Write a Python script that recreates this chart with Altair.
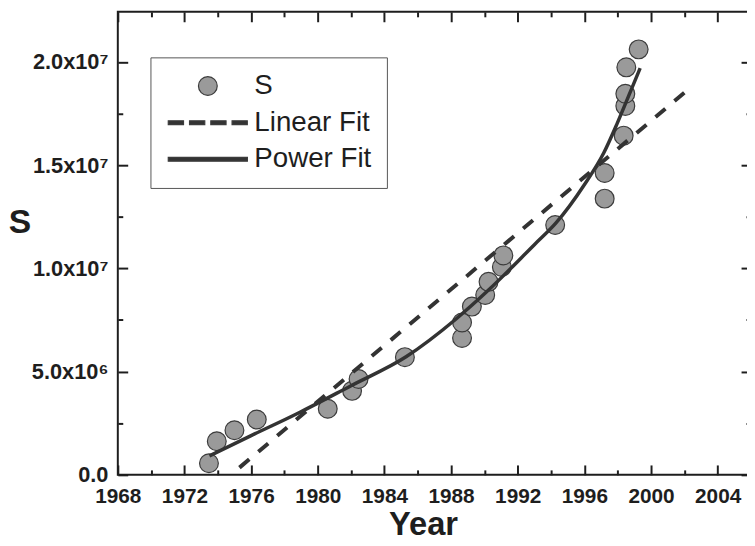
import altair as alt
import pandas as pd

# ---------------- data ----------------
series_names = ["S", "Linear Fit", "Power Fit"]

s_year = [1973.47, 1973.94, 1975.0, 1976.34, 1980.6, 1982.06, 1982.45, 1985.23,
          1988.66, 1988.66, 1989.25, 1990.05, 1990.25, 1991.05, 1991.14, 1994.25,
          1997.22, 1997.22, 1998.36, 1998.46, 1998.46, 1998.52, 1999.26]
s_value = [0.56e6, 1.63e6, 2.16e6, 2.68e6, 3.2e6, 4.07e6, 4.64e6, 5.7e6,
           6.63e6, 7.38e6, 8.15e6, 8.71e6, 9.35e6, 1.007e7, 1.063e7, 1.21e7,
           1.338e7, 1.462e7, 1.643e7, 1.787e7, 1.846e7, 1.974e7, 2.061e7]

lin_year = [1975.3, 2002.05]
lin_value = [3.5e5, 1.854e7]

pow_year = [1973.5, 1976.0, 1978.75, 1982.0, 1985.3, 1988.3, 1990.25, 1993.0,
            1994.3, 1996.0, 1997.17, 1997.96, 1998.76, 1999.35]
pow_value = [0.92e6, 1.9e6, 2.96e6, 4.32e6, 5.72e6, 7.55e6, 8.95e6, 1.115e7,
             1.22e7, 1.405e7, 1.56e7, 1.70e7, 1.855e7, 1.97e7]

x_label_values = [1968, 1972, 1976, 1980, 1984, 1988, 1992, 1996, 2000, 2004]
x_tick_values = [1968, 1970, 1972, 1974, 1976, 1978, 1980, 1982, 1984, 1986, 1988,
                 1990, 1992, 1994, 1996, 1998, 2000, 2002, 2004, 2006]
y_label_values = [0, 5000000, 10000000, 15000000, 20000000]
y_label_text = ["0.0", "5.0x10\u2076", "1.0x10\u2077", "1.5x10\u2077", "2.0x10\u2077"]
y_tick_values = [0, 2500000, 5000000, 7500000, 10000000, 12500000, 15000000,
                 17500000, 20000000]

# ---------------- styling ----------------
W, H = 640, 468
FONT = "Liberation Sans"
INK = "#1e1e1e"
LINE = "#333333"
PT_FILL = "#9a9a9a"
PT_STROKE = "#3c3c3c"

# legend symbols (unit = sqrt(size)/2 px)
SOLID_PATH = "M-4.21,-0.2L4.21,-0.2L4.21,0.2L-4.21,0.2Z"
_dashes = [(-4.21, -2.589), (-1.947, -0.326), (0.316, 1.937), (2.579, 4.2)]
DASH_PATH = " ".join(f"M{a},-0.2L{b},-0.2L{b},0.2L{a},0.2Z" for a, b in _dashes)

label_expr = " : ".join(f"datum.value == {v} ? '{t}'" for v, t in zip(y_label_values, y_label_text)) + " : ''"

xscale = alt.Scale(domain=[1968, 2006], nice=False, zero=False)
yscale = alt.Scale(domain=[0, 2.2427e7], nice=False)

pts_df = pd.DataFrame({"year": s_year, "value": s_value, "series": "S"})
lin_df = pd.DataFrame({"year": lin_year, "value": lin_value, "series": "Linear Fit"})
pow_df = pd.DataFrame({"year": pow_year, "value": pow_value, "series": "Power Fit"})

tick_size_x = {"condition": {"test": "datum.value % 4 === 0", "value": 10}, "value": 5}
tick_size_y = {"condition": {"test": "datum.value % 5000000 === 0", "value": 10}, "value": 5}


def tick_axis(orient, offset, values, size):
    return alt.Axis(orient=orient, offset=offset, values=values, labels=False,
                    domain=False, grid=False, ticks=True, tickSize=size,
                    tickWidth=2, tickColor=INK, title=None)


legend = alt.Legend(
    title=None, orient="none", legendX=33, legendY=46, direction="vertical",
    padding=15, rowPadding=9, symbolSize=361, symbolOffset=29,
    symbolStrokeWidth=1.2, labelOffset=33,
    labelFont=FONT, labelFontSize=28, labelColor=INK,
    strokeColor="#555555", fillColor="white",
)

points = alt.Chart(pts_df).mark_point(
    filled=True, size=361, stroke=PT_STROKE, strokeWidth=1.2, opacity=1
).encode(
    x=alt.X("year:Q", scale=xscale, axis=alt.Axis(
        orient="bottom", values=x_label_values, format="d", ticks=False,
        domain=False, grid=False, labelFlush=False, labelFont=FONT,
        labelFontWeight="bold", labelFontSize=21, labelColor=INK, labelPadding=11,
        title="Year", titleFont=FONT, titleFontSize=33, titleFontWeight="bold",
        titleColor=INK, titleX=308.5, titleY=60, titleBaseline="alphabetic",
        titleAlign="center")),
    y=alt.Y("value:Q", scale=yscale, axis=alt.Axis(
        orient="left", values=y_label_values, labelExpr=label_expr, ticks=False,
        domain=False, grid=False, labelFont=FONT, labelFontWeight="bold",
        labelFontSize=22, labelColor=INK, labelPadding=10,
        title="S", titleAngle=0, titleFont=FONT, titleFontSize=34,
        titleFontWeight="bold", titleColor=INK, titleX=-99.5, titleY=223,
        titleAlign="center", titleBaseline="alphabetic")),
    shape=alt.Shape("series:N", scale=alt.Scale(domain=series_names,
                    range=["circle", DASH_PATH, SOLID_PATH]), legend=legend),
    fill=alt.Fill("series:N", scale=alt.Scale(domain=series_names,
                  range=[PT_FILL, LINE, LINE]), legend=legend),
)

linear = alt.Chart(lin_df).mark_line(
    color=LINE, strokeWidth=4, strokeDash=[13, 12], strokeCap="butt"
).encode(
    x=alt.X("year:Q", scale=xscale, axis=tick_axis("top", -H, x_tick_values, tick_size_x)),
    y=alt.Y("value:Q", scale=yscale, axis=tick_axis("right", -W, y_tick_values, tick_size_y)),
)

power = alt.Chart(pow_df).mark_line(
    color=LINE, strokeWidth=3.5, interpolate="monotone"
).encode(
    x=alt.X("year:Q", scale=xscale, axis=tick_axis("bottom", -H, x_tick_values, tick_size_x)),
    y=alt.Y("value:Q", scale=yscale, axis=tick_axis("left", -W, y_tick_values, tick_size_y)),
)

chart = alt.layer(points, linear, power).resolve_axis(
    x="independent", y="independent"
).properties(
    width=W, height=H,
    autosize=alt.AutoSizeParams(type="none"),
    padding={"left": 111, "top": 1, "right": -4, "bottom": 67},
    background="white",
).configure_view(stroke=INK, strokeWidth=2)

chart.save("out.html", embed_options={"renderer": "svg", "actions": False})
